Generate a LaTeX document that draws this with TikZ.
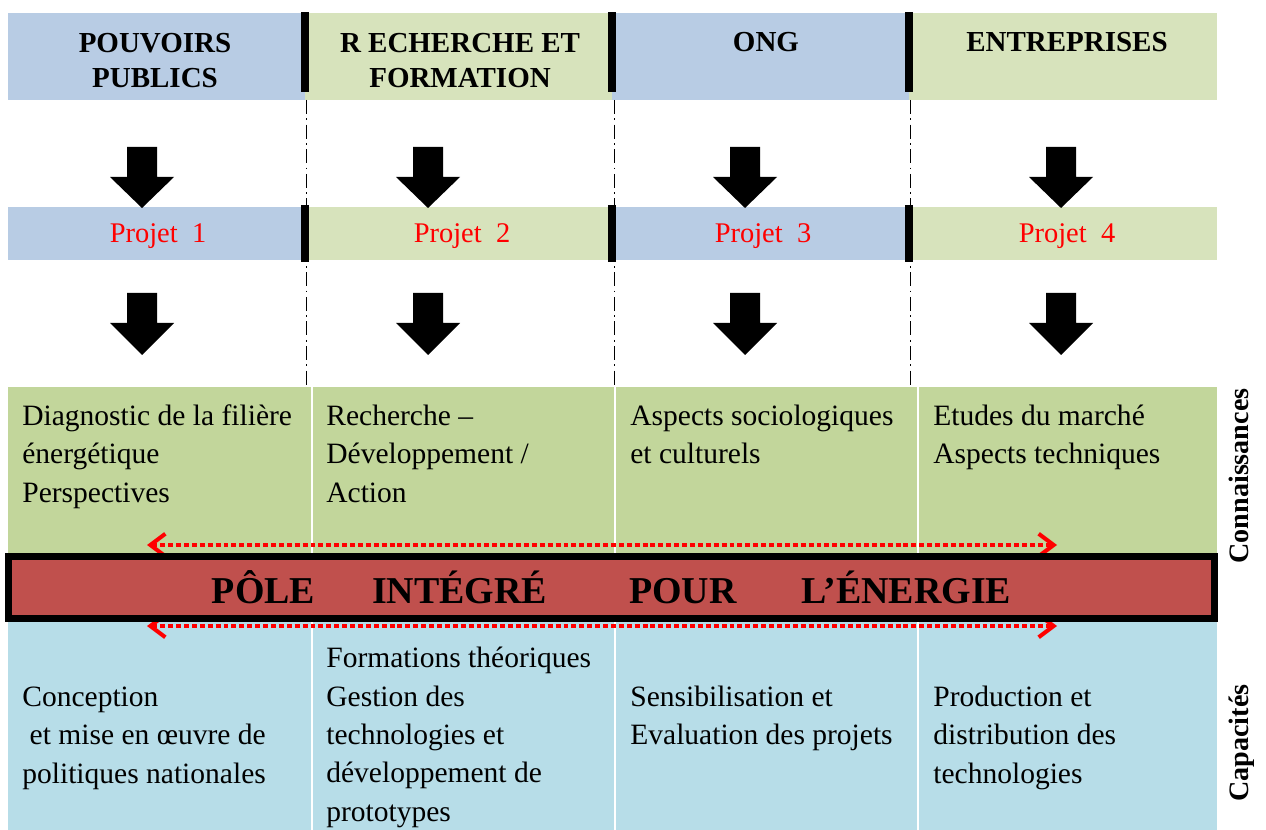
\documentclass[tikz,border=0pt]{standalone}
\usepackage{fontspec}
\setmainfont{Liberation Serif}
\usetikzlibrary{arrows.meta}
\definecolor{bleuhaut}{RGB}{184,204,228}
\definecolor{verthaut}{RGB}{215,227,188}
\definecolor{vertbas}{RGB}{194,214,155}
\definecolor{bleubas}{RGB}{183,221,232}
\definecolor{rouge}{RGB}{192,80,77}

\begin{document}
\begin{tikzpicture}[x=0.02cm,y=-0.02cm,
  acteur/.style={anchor=base,align=center,font=\fontsize{16.5}{20.4}\selectfont\bfseries},
  projet/.style={anchor=base,text=red,font=\fontsize{16.2}{20}\selectfont},
  cellule/.style={anchor=base west,align=left,inner sep=0pt,font=\fontsize{16.8}{21.8}\selectfont},
  axe/.style={anchor=base,rotate=90,inner sep=0pt,font=\fontsize{16}{19}\selectfont\bfseries},
  echange/.style={red,line width=2.3pt,dash pattern=on 2.8pt off 1.7pt,
    {Straight Barb[length=0.3cm,width=0.45cm]}-{Straight Barb[length=0.3cm,width=0.45cm]}},
  pole/.style={draw=black,fill=rouge,line width=4pt,minimum width=24.12cm,
    minimum height=1.24cm,inner sep=0pt,font=\fontsize{21.6}{26}\selectfont\bfseries}]
\useasboundingbox (0,0) rectangle (1266,830);

% bandes des acteurs et des projets
\foreach \xa/\xb/\c in {8/305/bleuhaut,305/612/verthaut,612/909/bleuhaut,909/1217/verthaut} {
  \fill[\c] (\xa,13) rectangle (\xb,100);
}
\foreach \x in {306,614,910}
  \draw[dash pattern=on 8pt off 2.5pt on 1pt off 2.5pt] (\x,100) -- (\x,387);
\foreach \xa/\xb/\c in {8/305/bleuhaut,305/612/verthaut,612/909/bleuhaut,909/1217/verthaut} {
  \fill[\c] (\xa,207) rectangle (\xb,260);
}
\foreach \x in {305,612,909} {
  \fill ({\x-4},12) rectangle ({\x+4},92);
  \fill ({\x-4},205) rectangle ({\x+4},262);
}

% (base = derniere ligne)
\node[acteur] (pp) at (155,88) {POUVOIRS\\PUBLICS};
\node[acteur] (rf) at (460,88) {R ECHERCHE ET\\FORMATION};
\node[acteur] (ong) at (766,52) {ONG};
\node[acteur] (ent) at (1067,52) {ENTREPRISES};

\node[projet] (p1) at (158,243) {Projet~~1};
\node[projet] (p2) at (462,243) {Projet~~2};
\node[projet] (p3) at (763,243) {Projet~~3};
\node[projet] (p4) at (1067,243) {Projet~~4};

% grosses fleches
\foreach \x in {142,428,745,1061} {
  \fill ({\x-15},147) -- ({\x+15},147) -- ({\x+15},177) -- ({\x+32},177)
    -- (\x,208) -- ({\x-32},177) -- ({\x-15},177) -- cycle;
  \fill ({\x-15},293) -- ({\x+15},293) -- ({\x+15},323) -- ({\x+32},323)
    -- (\x,355) -- ({\x-32},323) -- ({\x-15},323) -- cycle;
}

% connaissances et capacites
\fill[vertbas] (8,387) rectangle (1217,558);
\fill[bleubas] (8,618) rectangle (1217,830);
\foreach \x in {312,615,918}
  \draw[white,line width=0.6pt] (\x,387) -- (\x,830);

\node[cellule] (k1) at (22,502) {Diagnostic de la filière\\énergétique\\Perspectives};
\node[cellule] (k2) at (326,502) {Recherche –\\Développement /\\Action};
\node[cellule] (k3) at (630,463.5) {Aspects sociologiques\\et culturels};
\node[cellule] (k4) at (933,463.5) {Etudes du marché\\Aspects techniques};

\node[cellule] (c1) at (22,783) {Conception\\\hspace*{0.25em}et mise en œuvre de\\politiques nationales};
\node[cellule] (c2) at (326,821) {Formations théoriques\\Gestion des\\technologies et\\développement de\\prototypes};
\node[cellule] (c3) at (630,744.5) {Sensibilisation et\\Evaluation des projets};
\node[cellule] (c4) at (933,783) {Production et\\distribution des\\technologies};

\node[axe] (conn) at (1248,476) {Connaissances};
\node[axe] (capa) at (1248,743) {Capacités};

% echanges autour du pole
\coordinate (hg) at (147,545);
\coordinate (hd) at (1057,545);
\coordinate (bg) at (147,626);
\coordinate (bd) at (1057,626);
\draw[echange] (hg) -- (hd);
\draw[echange] (bg) -- (bd);

\node[pole] (pie) at (611.5,587.5)
  {PÔLE\hspace{1.14cm}INTÉGRÉ\hspace{1.64cm}POUR\hspace{1.3cm}L’ÉNERGIE};
\end{tikzpicture}
\end{document}
